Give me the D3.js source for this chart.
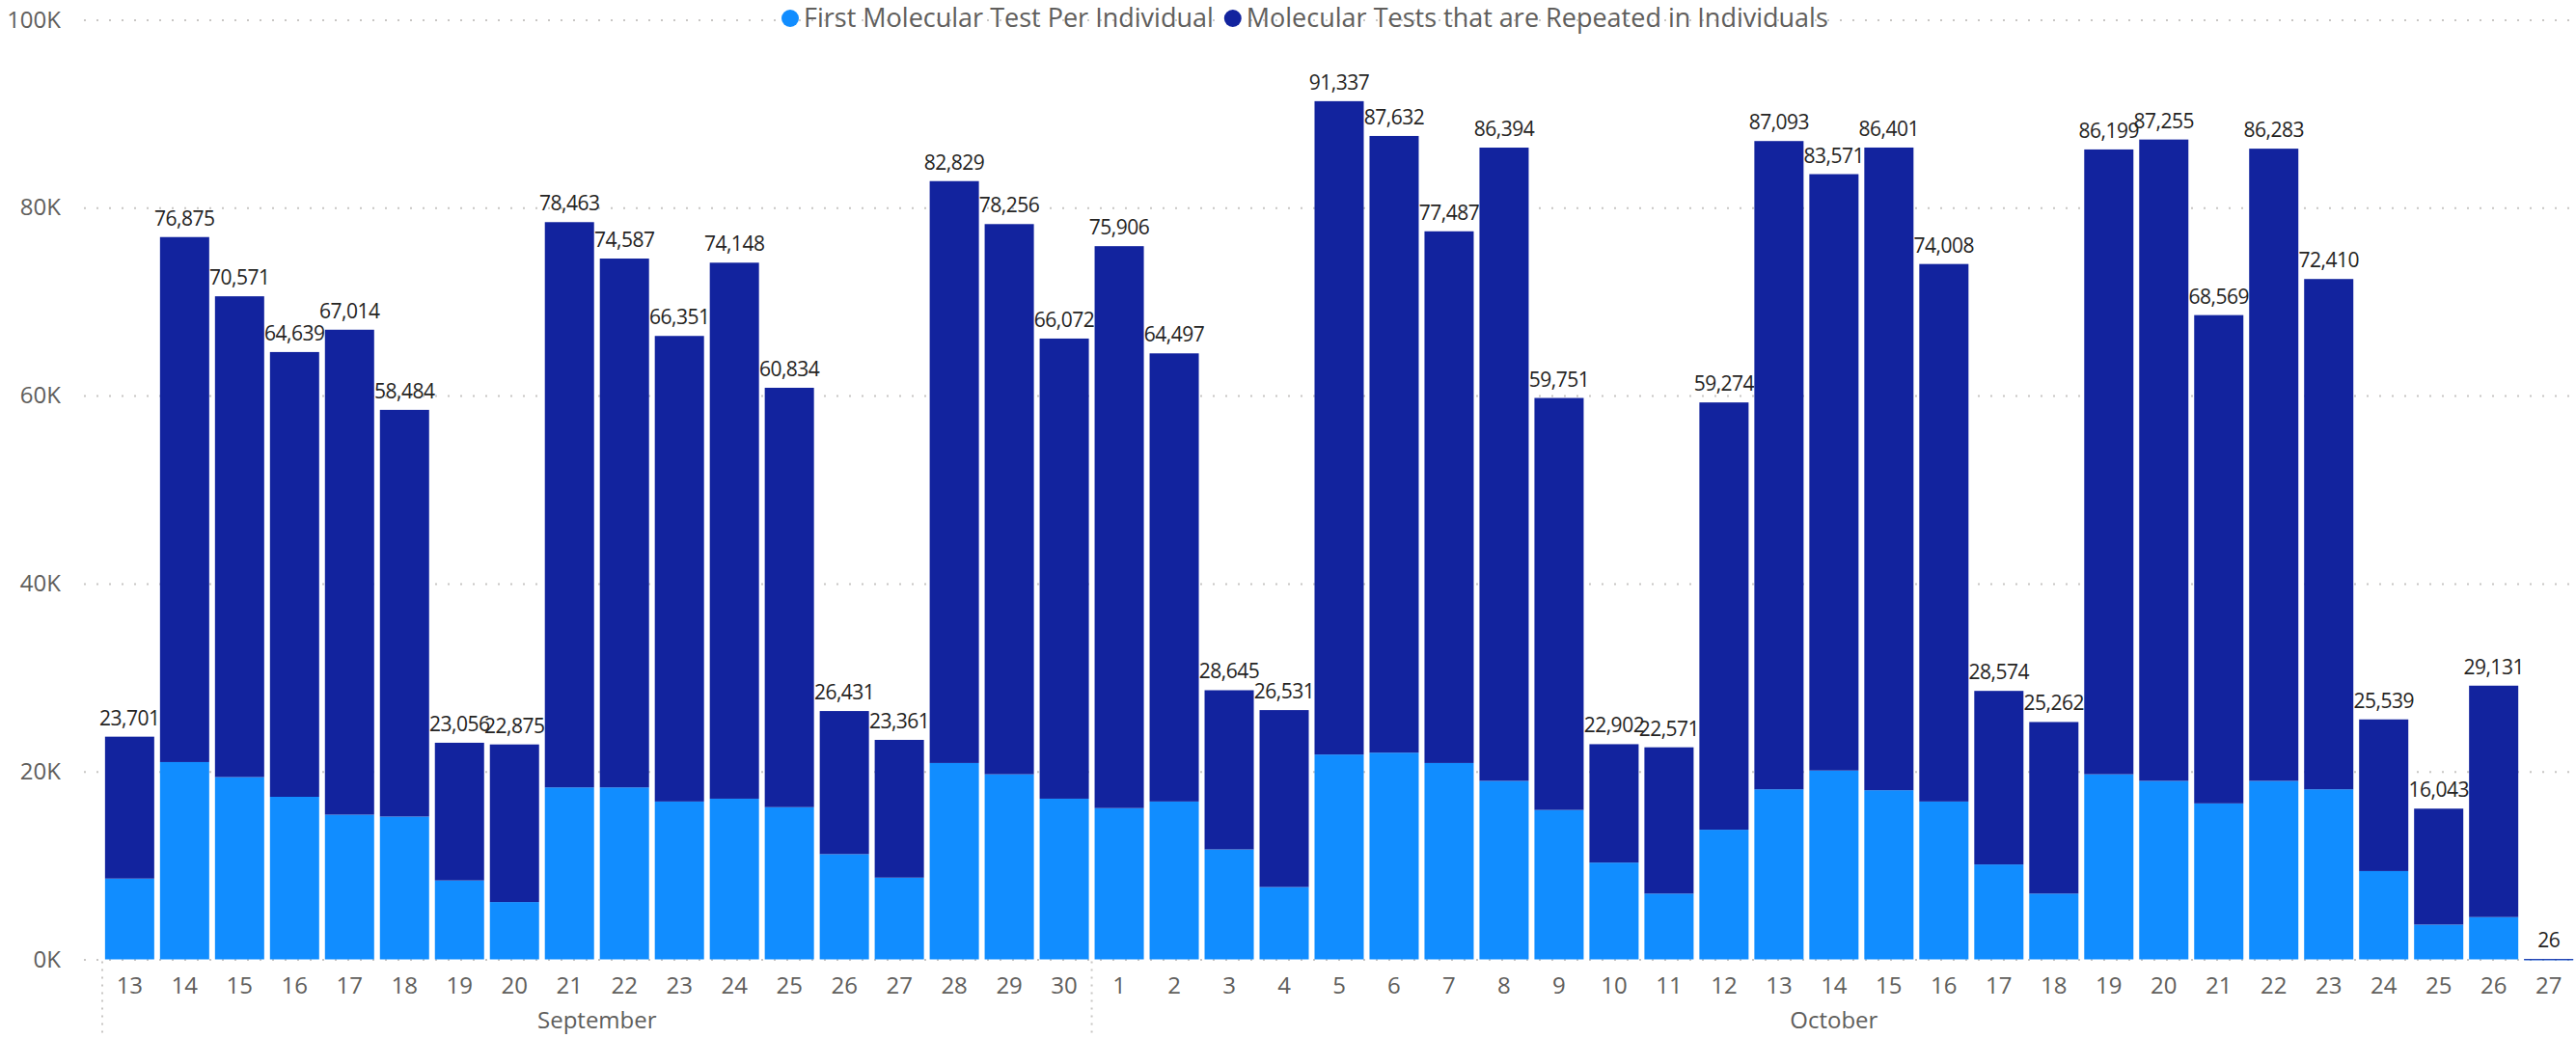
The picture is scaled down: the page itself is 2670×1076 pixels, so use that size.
<!DOCTYPE html>
<html>
<head>
<meta charset="utf-8">
<script src="https://cdn.jsdelivr.net/npm/d3@7"></script>
<style>
	body { margin: 0; background: #fff; }
	svg { display: block; }
</style>
</head>
<body>
<div id="chart"></div>
<script>
// values
var days = ["13","14","15","16","17","18","19","20","21","22","23","24","25","26","27","28","29","30",
	"1","2","3","4","5","6","7","8","9","10","11","12","13","14","15","16","17","18","19","20","21","22","23","24","25","26","27"];
var months = ["September","October"];
var monthOfDay = [0,0,0,0,0,0,0,0,0,0,0,0,0,0,0,0,0,0,
	1,1,1,1,1,1,1,1,1,1,1,1,1,1,1,1,1,1,1,1,1,1,1,1,1,1,1];
var firstTest = [8600,21000,19400,17300,15400,15200,8400,6100,18300,18300,16800,17100,16200,11200,8700,20900,19700,17100,
	16100,16800,11700,7700,21800,22000,20900,19000,15900,10300,7000,13800,18100,20100,18000,16800,10100,7000,19700,19000,16600,19000,18100,9400,3700,4500,20];
var repeated = [15101,55875,51171,47339,51614,43284,14656,16775,60163,56287,49551,57048,44634,15231,14661,61929,58556,48972,
	59806,47697,16945,18831,69537,65632,56587,67394,43851,12602,15571,45474,68993,63471,68401,57208,18474,18262,66499,68255,51969,67283,54310,16139,12343,24631,6];
var seriesNames = ["First Molecular Test Per Individual", "Molecular Tests that are Repeated in Individuals"];
var seriesColors = ["#118DFF", "#12239E"];
var yTicks = [0, 20000, 40000, 60000, 80000, 100000];

var W = 2670, H = 1076;
var margin = {left: 106, right: 0, top: 20.5, bottom: 81.5};
var gridStart = 87;

var rows = days.map(function(d, i){
	return {key: i, day: d, month: monthOfDay[i], first: firstTest[i], repeated: repeated[i]};
});

var svg = d3.select("#chart").append("svg")
	.attr("width", W)
	.attr("height", H);

var x = d3.scaleBand()
	.domain(rows.map(d => d.key))
	.range([margin.left, W - margin.right])
	.paddingInner(0.105)
	.paddingOuter(0.05);

var y = d3.scaleLinear()
	.domain([0, 100000])
	.range([H - margin.bottom, margin.top]);

// gridlines + y labels
var yAxis = d3.axisLeft(y)
	.tickValues(yTicks)
	.tickSize(-(W - gridStart))
	.tickFormat(d => (d / 1000) + "K");

var gy = svg.append("g")
	.attr("transform", "translate(" + gridStart + ",0)")
	.call(yAxis);
gy.select(".domain").remove();
gy.selectAll(".tick line")
	.attr("stroke", "#C8C6C4")
	.attr("stroke-width", 2)
	.attr("stroke-dasharray", "2,11");
gy.selectAll(".tick text")
	.attr("x", -24)
	.attr("fill", "#605E5C")
	.style("font-family", "'Open Sans',sans-serif")
	.style("font-size", "24px");

// stacked bars
var stack = d3.stack().keys(["first", "repeated"]);
var layers = stack(rows);

svg.append("g").selectAll("g")
	.data(layers)
  .enter().append("g")
	.attr("fill", (d, i) => seriesColors[i])
  .selectAll("rect")
	.data(d => d)
  .enter().append("rect")
	.attr("x", d => x(d.data.key))
	.attr("width", x.bandwidth())
	.attr("y", d => y(d[1]))
	.attr("height", d => Math.max(y(d[0]) - y(d[1]), 1));

// total labels
var topLayer = layers[layers.length - 1];
svg.append("g").selectAll("text")
	.data(topLayer)
  .enter().append("text")
	.attr("x", d => x(d.data.key) + x.bandwidth() / 2)
	.attr("y", d => y(d[1]) - 12)
	.attr("text-anchor", "middle")
	.attr("fill", "#252423")
	.style("font-family", "'Open Sans',sans-serif")
	.style("font-size", "21px")
	.style("letter-spacing", "-0.5px")
	.text(d => d3.format(",")(d[1]));

// x axis day labels
var gx = svg.append("g")
	.attr("transform", "translate(0," + (H - margin.bottom) + ")")
	.call(d3.axisBottom(x).tickSize(0).tickPadding(18).tickFormat(i => days[i]));
gx.select(".domain").remove();
gx.selectAll(".tick text")
	.attr("fill", "#605E5C")
	.style("font-family", "'Open Sans',sans-serif")
	.style("font-size", "24px");

// month groups
var step = x.step();
var monthSpans = months.map(function(m, mi){
	var idx = rows.filter(r => r.month == mi).map(r => r.key);
	return {name: m, x0: x(idx[0]) - (step - x.bandwidth()) / 2, x1: x(idx[idx.length - 1]) + x.bandwidth() + (step - x.bandwidth()) / 2};
});
monthSpans[0].x0 = margin.left;

svg.append("g").selectAll("line")
	.data(monthSpans)
  .enter().append("line")
	.attr("x1", d => d.x0).attr("x2", d => d.x0)
	.attr("y1", H - margin.bottom + 2).attr("y2", H)
	.attr("stroke", "#C8C6C4")
	.attr("stroke-width", 2)
	.attr("stroke-dasharray", "2,6");

svg.append("g").selectAll("text")
	.data(monthSpans)
  .enter().append("text")
	.attr("x", d => (d.x0 + d.x1) / 2)
	.attr("y", H - 10)
	.attr("text-anchor", "middle")
	.attr("fill", "#605E5C")
	.style("font-family", "'Open Sans',sans-serif")
	.style("font-size", "24px")
	.text(d => d.name);

// legend
var legend = svg.append("g").attr("transform", "translate(819,19)");
var lx = 0;
seriesNames.forEach(function(name, i){
	var g = legend.append("g").attr("transform", "translate(" + lx + ",0)");
	g.append("circle").attr("r", 9).attr("cy", 0).attr("fill", seriesColors[i]);
	var t = g.append("text")
		.attr("x", 14)
		.attr("dy", "0.35em")
		.attr("fill", "#605E5C")
		.style("font-family", "'Open Sans',sans-serif")
		.style("font-size", "27px")
		.text(name);
	lx += 14 + t.node().getComputedTextLength() + 20;
});
</script>
</body>
</html>
